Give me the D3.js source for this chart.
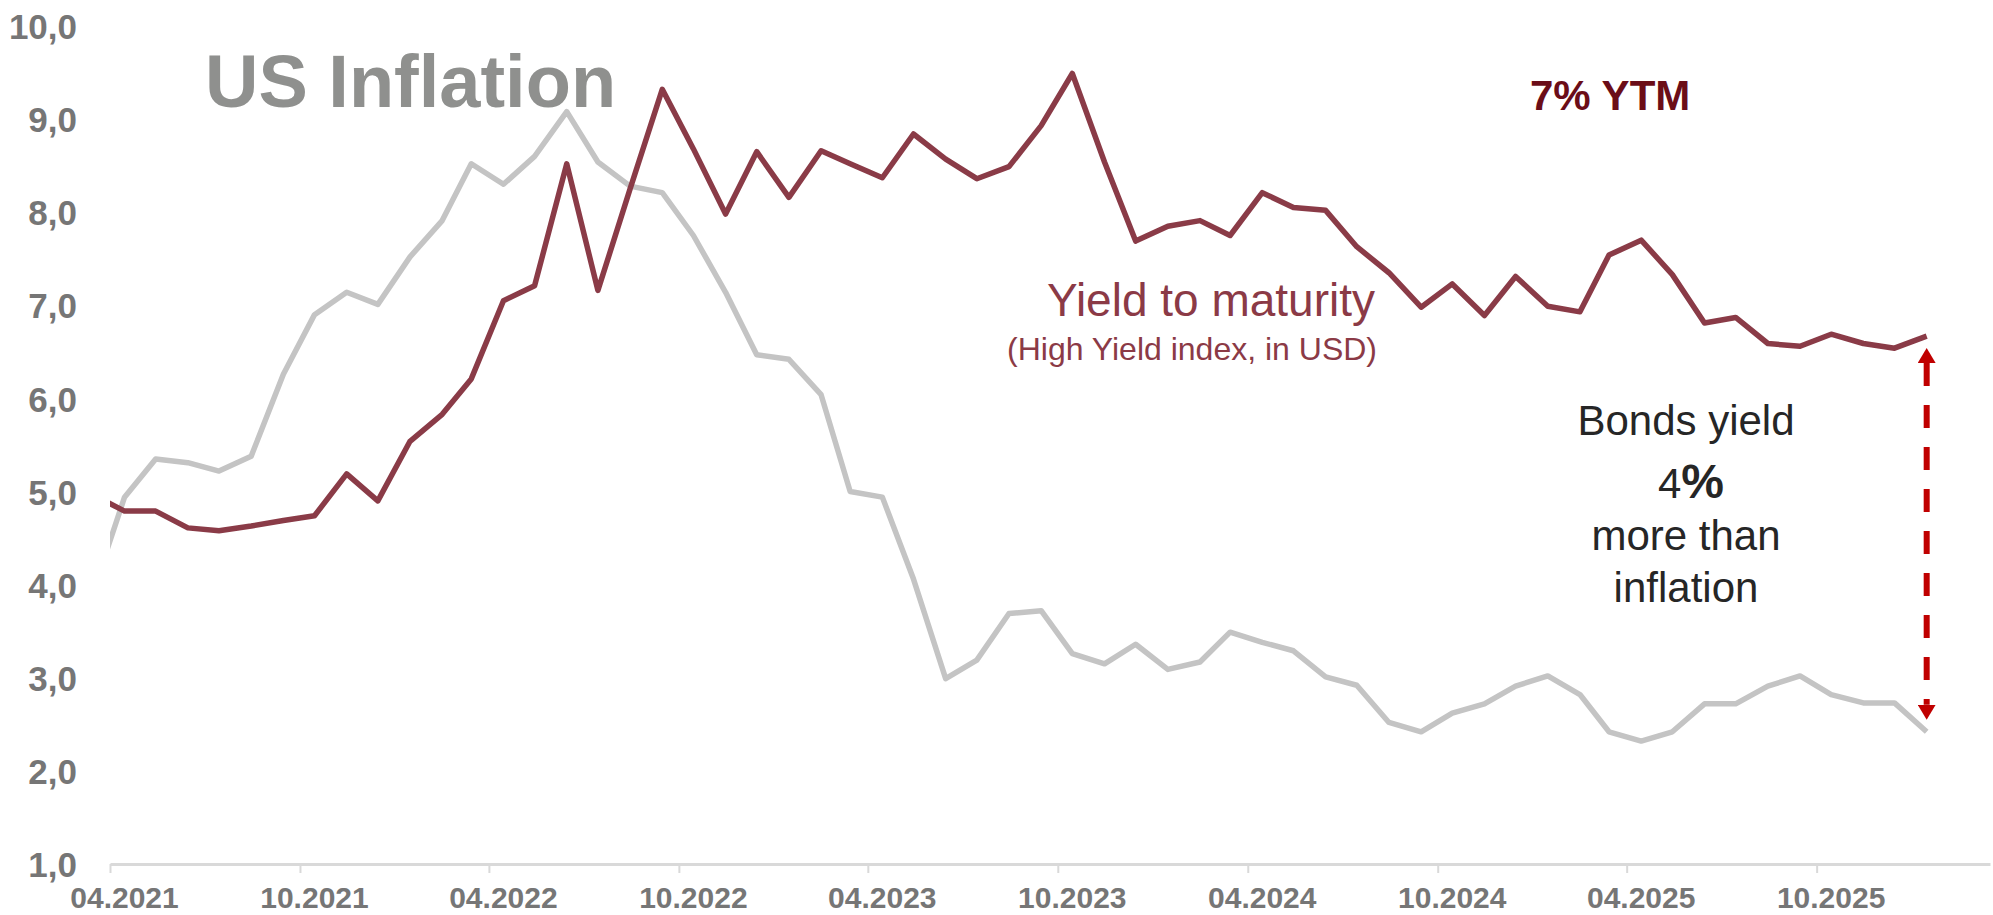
<!DOCTYPE html>
<html>
<head>
<meta charset="utf-8">
<script src="https://cdn.jsdelivr.net/npm/d3@7"></script>
<style>
  body { margin: 0; background: #fff; }
  text { font-family: "Liberation Sans", Arial, sans-serif; }
</style>
</head>
<body>
<script>
// monthly points (the first one sits left of the axis and gets clipped)
var months = [
  "03.2021", "04.2021", "05.2021", "06.2021", "07.2021", "08.2021", "09.2021", "10.2021", "11.2021", "12.2021",
  "01.2022", "02.2022", "03.2022", "04.2022", "05.2022", "06.2022", "07.2022", "08.2022", "09.2022", "10.2022", "11.2022", "12.2022",
  "01.2023", "02.2023", "03.2023", "04.2023", "05.2023", "06.2023", "07.2023", "08.2023", "09.2023", "10.2023", "11.2023", "12.2023",
  "01.2024", "02.2024", "03.2024", "04.2024", "05.2024", "06.2024", "07.2024", "08.2024", "09.2024", "10.2024", "11.2024", "12.2024",
  "01.2025", "02.2025", "03.2025", "04.2025", "05.2025", "06.2025", "07.2025", "08.2025", "09.2025", "10.2025", "11.2025", "12.2025",
  "01.2026"
];

var inflation = [
  3.9, 4.94, 5.35, 5.31, 5.22, 5.38, 6.26, 6.9, 7.14, 7.01,
  7.52, 7.91, 8.52, 8.30, 8.6, 9.08, 8.54, 8.28, 8.21, 7.75, 7.14, 6.47,
  6.42, 6.04, 5.0, 4.94, 4.06, 2.99, 3.19, 3.69, 3.72, 3.26, 3.15, 3.36,
  3.09, 3.17, 3.49, 3.38, 3.29, 3.01, 2.92, 2.52, 2.42, 2.62, 2.72, 2.91,
  3.02, 2.82, 2.42, 2.32, 2.42, 2.72, 2.72, 2.91, 3.02, 2.82, 2.73, 2.73,
  2.42
];

var ytm = [
  4.97, 4.79, 4.79, 4.61, 4.58, 4.63, 4.69, 4.74, 5.19, 4.90,
  5.54, 5.83, 6.21, 7.05, 7.21, 8.52, 7.16, 8.25, 9.32, 8.68, 7.98, 8.65,
  8.16, 8.66, 8.52, 8.37, 8.84, 8.57, 8.36, 8.49, 8.93, 9.49, 8.54, 7.69,
  7.85, 7.91, 7.75, 8.21, 8.05, 8.02, 7.63, 7.35, 6.98, 7.23, 6.89, 7.31,
  6.99, 6.93, 7.54, 7.70, 7.33, 6.81, 6.87, 6.59, 6.56, 6.69, 6.59, 6.54,
  6.67
];

var tickLabels = ["04.2021", "10.2021", "04.2022", "10.2022", "04.2023", "10.2023",
                  "04.2024", "10.2024", "04.2025", "10.2025"];
var yTicks = [1, 2, 3, 4, 5, 6, 7, 8, 9, 10];

var width = 1993, height = 915;
var parseMonth = d3.timeParse("%m.%Y");
// points sit in the middle of their month
var midMonth = function(m) { return d3.timeDay.offset(parseMonth(m), 14); };

var svg = d3.select("body").append("svg")
    .attr("width", width)
    .attr("height", height);

var x = d3.scaleTime()
    .domain([parseMonth("04.2021"), new Date(2026, 2, 17)])
    .range([110, 1990]);

var y = d3.scaleLinear()
    .domain([1, 10])
    .range([864, 26]);

var defs = svg.append("defs");

defs.append("clipPath")
    .attr("id", "plot")
    .append("rect")
    .attr("x", x.range()[0])
    .attr("y", 0)
    .attr("width", x.range()[1] - x.range()[0])
    .attr("height", height);

defs.append("marker")
    .attr("id", "head")
    .attr("viewBox", "0 0 15 18")
    .attr("refX", 0)
    .attr("refY", 9)
    .attr("markerUnits", "userSpaceOnUse")
    .attr("markerWidth", 15)
    .attr("markerHeight", 18)
    .attr("orient", "auto-start-reverse")
    .append("path")
    .attr("d", "M 0 0 L 15 9 L 0 18 z")
    .attr("fill", "#c00000");

// x axis
var xAxis = svg.append("g")
    .attr("transform", "translate(0," + y(1) + ")")
    .call(d3.axisBottom(x)
        .tickValues(tickLabels.map(parseMonth))
        .tickFormat(d3.timeFormat("%m.%Y"))
        .tickSize(9)
        .tickSizeOuter(0));

xAxis.select(".domain").attr("stroke", "#d9d9d9").attr("stroke-width", 3);
xAxis.selectAll(".tick line").attr("stroke", "#d9d9d9").attr("stroke-width", 2);
xAxis.selectAll(".tick text")
    .attr("y", 23)
    .attr("dx", 14)
    .attr("fill", "#767676")
    .style("font-size", "30px")
    .style("font-weight", "bold");

// y axis, labels only
var yAxis = svg.append("g")
    .attr("transform", "translate(77,0)")
    .call(d3.axisLeft(y)
        .tickValues(yTicks)
        .tickFormat(function(d) { return d3.format(".1f")(d).replace(".", ","); })
        .tickSize(0)
        .tickPadding(0));

yAxis.select(".domain").remove();
yAxis.selectAll(".tick text")
    .attr("dy", "0.36em")
    .attr("fill", "#767676")
    .style("font-size", "35px")
    .style("font-weight", "bold");

// lines
var line = function(values) {
    return d3.line()
        .x(function(d, i) { return x(midMonth(months[i])); })
        .y(function(d) { return y(d); })(values);
};

var lines = svg.append("g").attr("clip-path", "url(#plot)");

lines.append("path")
    .attr("d", line(inflation))
    .attr("fill", "none")
    .attr("stroke", "#c4c4c4")
    .attr("stroke-width", 5.5)
    .attr("stroke-linejoin", "round");

lines.append("path")
    .attr("d", line(ytm))
    .attr("fill", "none")
    .attr("stroke", "#8a3b47")
    .attr("stroke-width", 5.5)
    .attr("stroke-linejoin", "round");

// gap arrow at the last month
var last = months.length - 1;
var ax = x(midMonth(months[last]));
svg.append("line")
    .attr("x1", ax)
    .attr("x2", ax)
    .attr("y1", y(ytm[last]) + 12 + 15)
    .attr("y2", y(inflation[last]) - 12 - 15)
    .attr("stroke", "#c00000")
    .attr("stroke-width", 6)
    .attr("stroke-dasharray", "23,19")
    .attr("marker-start", "url(#head)")
    .attr("marker-end", "url(#head)");

// texts
svg.append("text")
    .attr("x", 205)
    .attr("y", 107)
    .attr("fill", "#8f908e")
    .style("font-size", "74px")
    .style("font-weight", "bold")
    .text("US Inflation");

svg.append("text")
    .attr("x", 1530)
    .attr("y", 110)
    .attr("fill", "#6b0d18")
    .style("font-size", "42px")
    .style("font-weight", "bold")
    .text("7% YTM");

svg.append("text")
    .attr("x", 1375)
    .attr("y", 316)
    .attr("text-anchor", "end")
    .attr("fill", "#8b3a46")
    .style("font-size", "46px")
    .text("Yield to maturity");

svg.append("text")
    .attr("x", 1377)
    .attr("y", 360)
    .attr("text-anchor", "end")
    .attr("fill", "#8b3a46")
    .style("font-size", "32px")
    .text("(High Yield index, in USD)");

var note = svg.append("g")
    .attr("fill", "#262626")
    .attr("text-anchor", "middle");

note.append("text").attr("x", 1686).attr("y", 435).style("font-size", "42px").text("Bonds yield");

var pct = note.append("text").attr("x", 1691).attr("y", 498);
pct.append("tspan").style("font-size", "42px").text("4");
pct.append("tspan").style("font-size", "48px").style("font-weight", "bold").text("%");

note.append("text").attr("x", 1686).attr("y", 550).style("font-size", "42px").text("more than");
note.append("text").attr("x", 1686).attr("y", 602).style("font-size", "42px").text("inflation");
</script>
</body>
</html>
